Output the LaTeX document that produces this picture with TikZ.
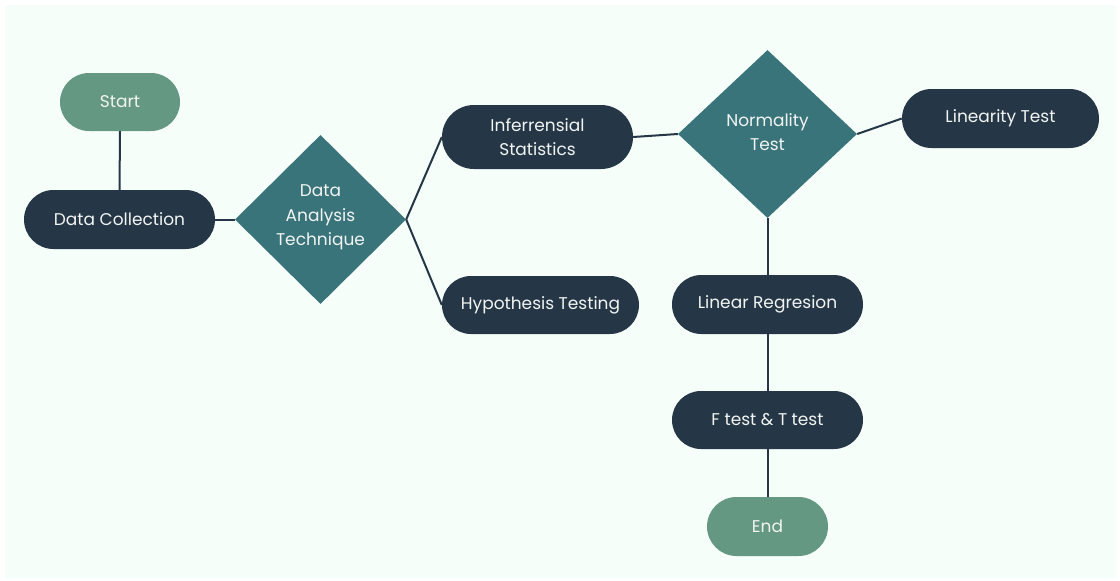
\documentclass[tikz,border=0pt]{standalone}
\usepackage{fontspec}
\setmainfont{Poppins}
\usetikzlibrary{shapes.geometric,shapes.misc}
\definecolor{bgmint}{HTML}{F5FEF9}
\definecolor{darkbox}{HTML}{253746}
\definecolor{greenbox}{HTML}{649882}
\definecolor{tealbox}{HTML}{39747A}
\definecolor{txt}{HTML}{F2F4F2}
\tikzset{
  pill/.style={rounded rectangle, fill=darkbox, text=txt, inner sep=0pt, align=center, font=\fontsize{17}{24}\selectfont},
  endpill/.style={pill, fill=greenbox},
  decide/.style={diamond, fill=tealbox, inner sep=0pt},
  dlabel/.style={text=txt, align=center, font=\fontsize{17}{24.5}\selectfont},
  link/.style={draw=darkbox, line width=2pt}
}
\begin{document}
\begin{tikzpicture}[x=1pt,y=-1pt]
\useasboundingbox (0,0) rectangle (1120,581);
\fill[white] (0,0) rectangle (1120,581);
\fill[bgmint] (5,5) rectangle (1116,578);
% nodes
\node[endpill, minimum width=120pt, minimum height=58pt] (start) at (120,102) {Start};
\node[pill, minimum width=191pt, minimum height=59pt] (dc) at (119.5,219.5) {Data Collection};
\node[decide, minimum width=171pt, minimum height=169pt] (dat) at (320.5,219.5) {};
\node[dlabel] (datl) at (320.5,217.5) {Data\\Analysis\\Technique};
\node[pill, minimum width=191pt, minimum height=64pt] (inf) at (537.5,137) {Inferrensial\\Statistics};
\node[pill, minimum width=197pt, minimum height=58pt] (hyp) at (540.5,305) {Hypothesis Testing};
\node[decide, minimum width=179pt, minimum height=168pt] (norm) at (767.5,134) {};
\node[dlabel] (norml) at (767.5,132) {Normality\\Test};
\node[pill, minimum width=197pt, minimum height=59pt] (lin) at (1000.5,118.5) {Linearity Test};
\node[pill, minimum width=191pt, minimum height=59pt] (lr) at (767.5,304.5) {Linear Regresion};
\node[pill, minimum width=191pt, minimum height=58pt] (ft) at (767.5,420) {F test \& T test};
\node[endpill, minimum width=121pt, minimum height=59pt] (end) at (767.5,526.5) {End};
% connectors
\draw[link] (start.south) -- (dc.north);
\draw[link] (dc.east) -- (dat.west);
\draw[link] (dat.east) -- (inf.west);
\draw[link] (dat.east) -- (hyp.west);
\draw[link] (inf.east) -- (norm.west);
\draw[link] (norm.east) -- (lin.west);
\draw[link] (norm.south) -- (lr.north);
\draw[link] (lr.south) -- (ft.north);
\draw[link] (ft.south) -- (end.north);
\end{tikzpicture}
\end{document}
